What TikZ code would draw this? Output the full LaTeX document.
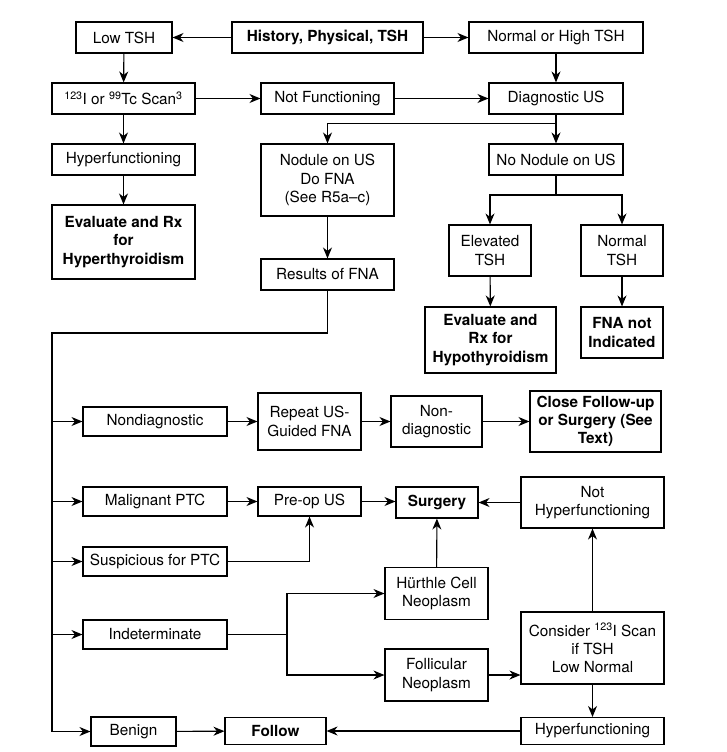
\documentclass[tikz,border=0pt]{standalone}
\usepackage{fontspec}
\setmainfont{TeX Gyre Heros}
\usetikzlibrary{arrows.meta}

\begin{document}
\begin{tikzpicture}[x=1pt, y=-1pt, line width=1.1pt, -{Stealth[length=11pt, width=9pt, inset=3.5pt]},
        every node/.append style={font=\fontsize{15.3}{18.3}\selectfont}]
      \tikzstyle{box} = [draw, rectangle, align=center, inner sep=0pt, -]
      \tikzstyle{bold} = [font=\fontsize{15.3}{18.3}\selectfont\bfseries]
      \useasboundingbox (0,0) rectangle (727,752);
      \node (LowTSH) [box, minimum width=96, minimum height=31] at (124,37.5) {Low TSH};
      \node (History) [box, bold, minimum width=191, minimum height=31] at (327.5,37.5) {History, Physical, TSH};
      \node (NormalTSH) [box, minimum width=174, minimum height=31] at (556,37.5) {Normal or High TSH};
      \node (Scan) [box, minimum width=143, minimum height=31] at (123.5,98.5) {\textsuperscript{123}I or \textsuperscript{99}Tc Scan\textsuperscript{3}};
      \node (NotFunc) [box, minimum width=133, minimum height=31] at (327.5,98.5) {Not Functioning};
      \node (DiagUS) [box, minimum width=134, minimum height=31] at (556,98.5) {Diagnostic US};
      \node (HyperTop) [box, minimum width=143, minimum height=31] at (123.5,159.5) {Hyperfunctioning};
      \node (Nodule) [box, minimum width=133, minimum height=72] at (327.5,180) {Nodule on US\\Do FNA\\(See R5a--c)};
      \node (NoNodule) [box, minimum width=134, minimum height=31] at (556,159.5) {No Nodule on US};
      \node (EvalHyper) [box, bold, minimum width=143, minimum height=74] at (123.5,242) {Evaluate and Rx\\for\\Hyperthyroidism};
      \node (Results) [box, minimum width=133, minimum height=31] at (327.5,274.5) {Results of FNA};
      \node (Elevated) [box, minimum width=82, minimum height=51] at (490,250.5) {Elevated\\TSH};
      \node (NormTSH) [box, minimum width=82, minimum height=51] at (622,250.5) {Normal\\TSH};
      \node (EvalHypo) [box, bold, minimum width=131, minimum height=66] at (490.5,340) {Evaluate and\\Rx for\\Hypothyroidism};
      \node (NotInd) [box, bold, minimum width=82, minimum height=51] at (622,332.5) {FNA not\\Indicated};
      \node (Nondiag) [box, minimum width=144, minimum height=29] at (155,421.5) {Nondiagnostic};
      \node (Repeat) [box, minimum width=103, minimum height=57] at (309.5,421.5) {Repeat US-\\Guided FNA};
      \node (NonDiag) [box, minimum width=91, minimum height=51] at (436.5,421.5) {Non-\\diagnostic};
      \node (Close) [box, bold, minimum width=131, minimum height=61] at (595.5,421.5) {Close Follow-up\\or Surgery (See\\Text)};
      \node (Malignant) [box, minimum width=144, minimum height=29] at (155,501.5) {Malignant PTC};
      \node (PreOp) [box, minimum width=103, minimum height=29] at (309.5,501.5) {Pre-op US};
      \node (Surgery) [box, bold, minimum width=82, minimum height=31] at (437,502.5) {Surgery};
      \node (NotHyper) [box, minimum width=143, minimum height=51] at (592.5,502.5) {Not\\Hyperfunctioning};
      \node (Suspicious) [box, minimum width=144, minimum height=29] at (155,561.5) {Suspicious for PTC};
      \node (Hurthle) [box, minimum width=103, minimum height=52] at (436.5,593.5) {Hürthle Cell\\Neoplasm};
      \node (Indet) [box, minimum width=144, minimum height=29] at (155,634.5) {Indeterminate};
      \node (Follicular) [box, minimum width=103, minimum height=52] at (436.5,675) {Follicular\\Neoplasm};
      \node (Consider) [box, minimum width=143, minimum height=72] at (592.5,648) {Consider \textsuperscript{123}I Scan\\if TSH\\Low Normal};
      \node (Benign) [box, minimum width=85, minimum height=29] at (133.5,731.5) {Benign};
      \node (Follow) [box, bold, minimum width=101, minimum height=27] at (275.5,731) {Follow};
      \node (HyperBot) [box, minimum width=143, minimum height=27] at (592.5,731) {Hyperfunctioning};
      \coordinate (USsplit) at (556,123.5);
      \coordinate (TSHsplit) at (556,195);
      \coordinate (Trunk) at (52,333);
      \coordinate (IndSplit) at (287,634.5);

      \draw (History) -- (LowTSH);
      \draw (History) -- (NormalTSH);
      \draw (LowTSH) -- (Scan);
      \draw (Scan) -- (NotFunc);
      \draw (NotFunc) -- (DiagUS);
      \draw (Scan) -- (HyperTop);
      \draw (HyperTop) -- (EvalHyper);
      \draw (NormalTSH) -- (DiagUS);
      \draw (DiagUS) -- (NoNodule);
      \draw (USsplit) -| (Nodule.north);
      \draw (Nodule) -- (Results);
      \draw[-] (NoNodule) -- (TSHsplit);
      \draw (TSHsplit) -| (Elevated.north);
      \draw (TSHsplit) -| (NormTSH.north);
      \draw (Elevated) -- (EvalHypo);
      \draw (NormTSH) -- (NotInd);
      \draw (Results.south) |- (Trunk) |- (Benign.west);
      \draw (Trunk |- Nondiag) -- (Nondiag.west);
      \draw (Trunk |- Malignant) -- (Malignant.west);
      \draw (Trunk |- Suspicious) -- (Suspicious.west);
      \draw (Trunk |- Indet) -- (Indet.west);
      \draw (Nondiag) -- (Repeat);
      \draw (Repeat) -- (NonDiag);
      \draw (NonDiag) -- (Close);
      \draw (Malignant) -- (PreOp);
      \draw (PreOp) -- (Surgery.west |- PreOp);
      \draw (Suspicious.east) -| (PreOp.south);
      \draw[-] (Indet.east) -- (IndSplit);
      \draw (IndSplit) |- (Hurthle.west);
      \draw (IndSplit) |- (Follicular.west);
      \draw (Hurthle) -- (Surgery);
      \draw (NotHyper) -- (Surgery);
      \draw (Follicular.east) -- (Follicular.east -| Consider.west);
      \draw (Consider) -- (NotHyper);
      \draw (Consider) -- (HyperBot);
      \draw (HyperBot) -- (Follow);
      \draw (Benign) -- (Follow);
    \end{tikzpicture}
\end{document}
